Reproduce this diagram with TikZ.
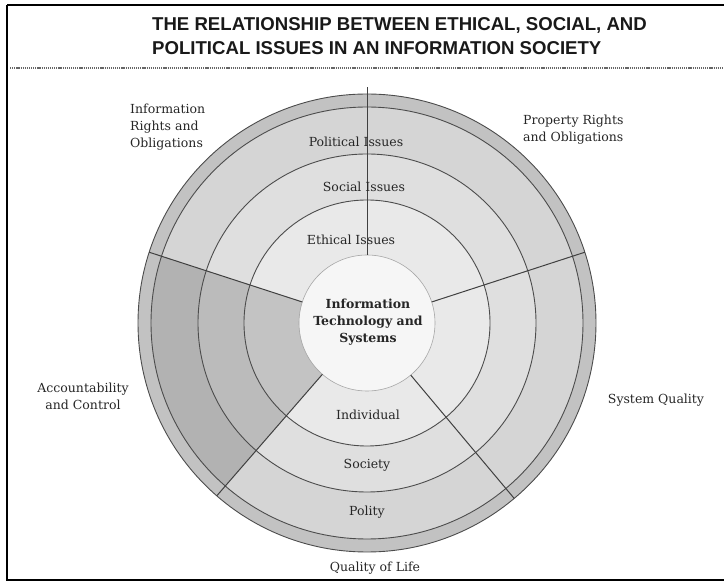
\documentclass[tikz,border=0pt]{standalone}
\usepackage{fontspec}
\setmainfont{DejaVu Serif}
\newfontfamily\titlefont{Liberation Sans}
\begin{document}
\begin{tikzpicture}[x=1pt,y=1pt,
  lbl/.style={font=\fontsize{12.5}{17}\selectfont, inner sep=0pt, text=black!85},
  ttl/.style={font=\titlefont\bfseries\fontsize{18.6}{22}\selectfont, inner sep=0pt, anchor=west, text=black!90},
  ring/.style={draw=black!70, line width=0.9pt},
  divider/.style={draw=black!75, line width=1pt}]
\useasboundingbox (0,0) rectangle (724,584);
% frame
\draw[line width=1.2pt] (7,579) -- (7,4) -- (724,4);
\draw[line width=1.4pt] (7,579) -- (724,579);
\draw[black!60, line width=1.6pt, dash pattern=on 1.2pt off 0.9pt] (10,516) -- (724,516);
% title
\node[ttl] (title1) at (152,559) {THE RELATIONSHIP BETWEEN ETHICAL, SOCIAL, AND};
\node[ttl] (title2) at (152,536) {POLITICAL ISSUES IN AN INFORMATION SOCIETY};
% rings
\begin{scope}[shift={(367,261)}]
  \fill[gray!48] (0,0) circle[radius=229];
  \fill[gray!33] (0,0) circle[radius=216];
  \fill[gray!25] (0,0) circle[radius=169];
  \fill[gray!17] (0,0) circle[radius=123];
  \fill[gray!7]  (0,0) circle[radius=68];
  \fill[black, opacity=0.16] (162:68) arc[start angle=162, end angle=229, radius=68]
     -- (229:216) arc[start angle=229, end angle=162, radius=216] -- cycle;
  \draw[ring] (0,0) circle[radius=229];
  \draw[ring] (0,0) circle[radius=216];
  \draw[ring] (0,0) circle[radius=169];
  \draw[ring] (0,0) circle[radius=123];
  \draw[draw=black!35, line width=0.6pt] (0,0) circle[radius=68];
  \draw[divider] (90:68) -- (90:236);
  \draw[divider] (18:68) -- (18:229);
  \draw[divider] (162:68) -- (162:229);
  \draw[divider] (229:68) -- (229:229);
  \draw[divider] (310:68) -- (310:229);
\end{scope}
% labels
\node[lbl, anchor=west, align=left] (inforights) at (130,457) {Information\\Rights and\\Obligations};
\node[lbl, anchor=west, align=left] (proprights) at (523,454) {Property Rights\\and Obligations};
\node[lbl] (political) at (356,442) {Political Issues};
\node[lbl] (social) at (364,397) {Social Issues};
\node[lbl] (ethical) at (351,344) {Ethical Issues};
\node[lbl, align=center, font=\bfseries\fontsize{12.5}{17}\selectfont] (itsys) at (368,262) {Information\\Technology and\\Systems};
\node[lbl] (individual) at (368,169) {Individual};
\node[lbl] (society) at (367,119) {Society};
\node[lbl] (polity) at (367,72) {Polity};
\node[lbl] (qol) at (375,16) {Quality of Life};
\node[lbl, align=center] (account) at (83,188) {Accountability\\and Control};
\node[lbl] (sysq) at (656,184) {System Quality};
\end{tikzpicture}
\end{document}
